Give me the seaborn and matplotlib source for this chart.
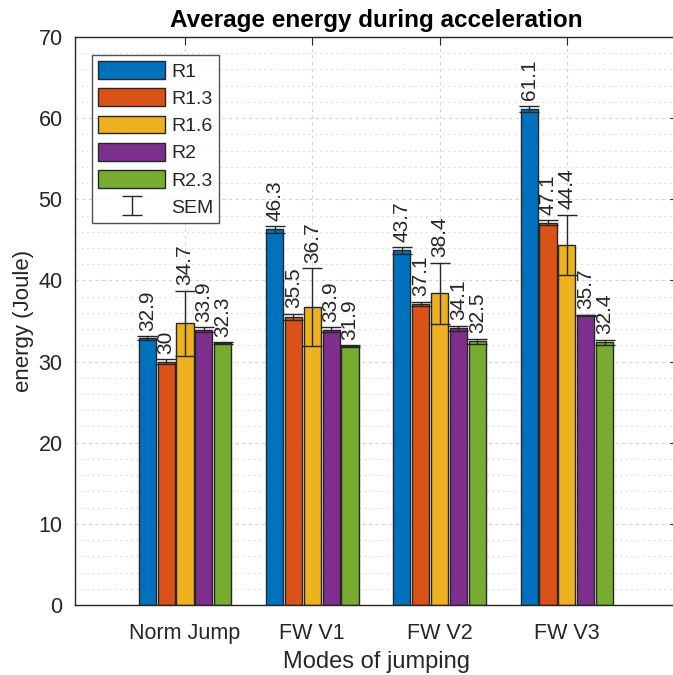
import numpy as np
import pandas as pd
import matplotlib
matplotlib.use("Agg")
import matplotlib.pyplot as plt
from matplotlib.ticker import MultipleLocator
import seaborn as sns

# Jumping modes and stiffness ratios
modes = ["Norm Jump", "FW V1", "FW V2", "FW V3"]
ratios = ["R1", "R1.3", "R1.6", "R2", "R2.3"]

# Mean energy (J) per ratio, one value per mode
energy_r1 = [32.9, 46.3, 43.7, 61.1]
energy_r13 = [30.0, 35.5, 37.1, 47.1]
energy_r16 = [34.7, 36.7, 38.4, 44.4]
energy_r2 = [33.9, 33.9, 34.1, 35.7]
energy_r23 = [32.3, 31.9, 32.5, 32.4]

# Standard error of the mean per ratio
sem_r1 = [0.2, 0.4, 0.4, 0.4]
sem_r13 = [0.3, 0.4, 0.3, 0.3]
sem_r16 = [4.0, 4.8, 3.8, 3.7]
sem_r2 = [0.3, 0.3, 0.3, 0.05]
sem_r23 = [0.1, 0.1, 0.3, 0.3]

colors = ["#0072BD", "#D95319", "#EDB120", "#7E2F8E", "#77AC30"]

energies = [energy_r1, energy_r13, energy_r16, energy_r2, energy_r23]
sems = [sem_r1, sem_r13, sem_r16, sem_r2, sem_r23]

df = pd.DataFrame({
    "mode": np.tile(modes, len(ratios)),
    "ratio": np.repeat(ratios, len(modes)),
    "energy": np.concatenate(energies),
})

sns.set_style("white")
plt.rcParams["font.family"] = ["Liberation Sans", "DejaVu Sans"]
dark = "#262626"

fig = plt.figure(figsize=(6.73, 6.75), dpi=100)
ax = fig.add_axes([75 / 673, 1 - 605 / 675, 603 / 673, 568 / 675])

sns.barplot(data=df, x="mode", y="energy", hue="ratio", order=modes,
            hue_order=ratios, palette=colors, width=0.74, gap=0.09,
            edgecolor=dark, linewidth=1.0, errorbar=None, saturation=1,
            ax=ax, zorder=2)

# Error bars and rotated value labels on top of each bar
err_containers = []
for container, vals, errs in zip(ax.containers[:len(ratios)], energies, sems):
    xs = [b.get_x() + b.get_width() / 2 for b in container]
    eb = ax.errorbar(xs, vals, yerr=errs, fmt="none", ecolor=dark,
                     elinewidth=1.0, capsize=7, capthick=1.0, zorder=3)
    err_containers.append(eb)
    for x, v, e in zip(xs, vals, errs):
        ax.annotate(f"{v:g}", (x, v + e), xytext=(0, 4),
                    textcoords="offset points", rotation=90,
                    ha="center", va="bottom", fontsize=15, color=dark)

ax.set_xlim(-0.864, 3.873)
ax.set_ylim(0, 70)
ax.yaxis.set_major_locator(MultipleLocator(10))
ax.yaxis.set_minor_locator(MultipleLocator(2))
ax.set_axisbelow(True)
ax.grid(True, which="major", axis="both", color="#d4d4d4",
        linestyle=(0, (3, 3)), linewidth=0.8)
ax.grid(True, which="minor", axis="y", color="#e0e0e0",
        linestyle=(0, (2, 3)), linewidth=0.8)

ax.tick_params(which="major", direction="in", length=6, width=0.8,
               top=True, right=True, colors=dark, labelsize=15.5)
ax.tick_params(axis="x", which="major", pad=13)
ax.tick_params(axis="y", which="major", pad=9)
ax.tick_params(which="minor", length=0)
for s in ax.spines.values():
    s.set_color(dark)
    s.set_linewidth(1.0)

ax.set_xlabel("Modes of jumping", fontsize=17, color=dark, labelpad=5)
ax.set_ylabel("energy (Joule)", fontsize=16, color=dark, labelpad=3)
ax.set_title("Average energy during acceleration", fontsize=17.5,
             fontweight="bold", color="black", pad=7)

# Legend: bar patches plus the SEM error-bar symbol
handles, labels = ax.get_legend_handles_labels()
bar_handles = handles[:len(ratios)]
leg = ax.legend(bar_handles + [err_containers[2]], ratios + ["SEM"],
                loc="upper left", bbox_to_anchor=(0.029, 0.968),
                borderaxespad=0, fontsize=14, handlelength=3.45,
                handleheight=1.03, labelspacing=0.4, handletextpad=0.3,
                borderpad=0.3, frameon=True, fancybox=False)
leg.get_frame().set_edgecolor(dark)
leg.get_frame().set_linewidth(1.0)
for t in leg.get_texts():
    t.set_color(dark)

fig.savefig("out.png", dpi=100)
